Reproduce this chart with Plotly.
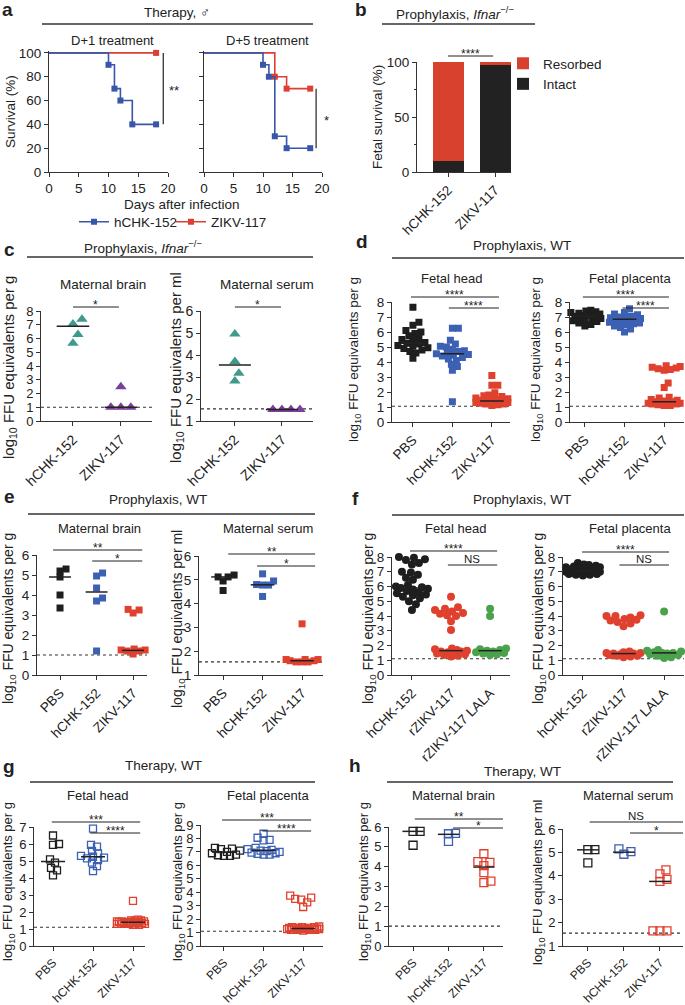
import numpy as np
import plotly.graph_objects as go

W, H = 685, 1005
FONT = "Liberation Sans, Arial, DejaVu Sans, sans-serif"
INK = "#222222"
AX = "#333333"
BLACK = "#1e1e1e"; BLUE = "#3b60b4"; RED = "#e0412f"; GREEN = "#4aa24c"
TEAL = "#3f9a8c"; PURPLE = "#7a3e9b"; KM_BLUE = "#3956a8"; KM_RED = "#dc3f33"

# ---------------- data ----------------
# a: Kaplan-Meier survival
a_d1_hchk_days = [0, 10, 11, 12, 14, 18]
a_d1_hchk_surv = [100, 90, 70, 60, 40, 40]
a_d1_zikv_days = [0, 18]
a_d1_zikv_surv = [100, 100]
a_d5_hchk_days = [0, 10, 11, 12, 14, 18]
a_d5_hchk_surv = [100, 90, 80, 30, 20, 20]
a_d5_zikv_days = [0, 12, 14, 18]
a_d5_zikv_surv = [100, 80, 70, 70]
a_xticks = [0, 5, 10, 15, 20]
a_yticks = [0, 20, 40, 60, 80, 100]

# b: fetal survival
b_groups = ["hCHK-152", "ZIKV-117"]
b_intact = [10, 97]
b_resorbed = [90, 3]

# c: prophylaxis Ifnar-/-
c_groups = ["hCHK-152", "ZIKV-117"]
c_brain_hchk = [7.4, 7.05, 6.3, 5.65]
c_brain_zikv = [2.5, 1.0, 1.0, 1.0]
c_brain_center = [6.9, 1.0]
c_serum_hchk = [4.95, 3.7, 3.17, 2.82]
c_serum_zikv = [1.52, 1.52, 1.52, 1.52]
c_serum_center = [3.55, 1.52]

# d: prophylaxis WT, fetal
d_groups = ["PBS", "hCHK-152", "ZIKV-117"]
d_head_pbs = [7.65, 6.65, 6.45, 6.1, 6.0, 5.9, 5.75, 5.6, 5.5, 5.45, 5.3, 5.25, 5.2, 5.1, 5.05, 4.95, 4.9, 4.8, 4.7, 4.6, 4.25]
d_head_hchk = [6.25, 6.25, 5.45, 5.2, 5.05, 5.0, 4.85, 4.75, 4.7, 4.6, 4.55, 4.5, 4.45, 4.4, 4.3, 4.2, 4.1, 3.85, 3.7, 3.45, 1.35]
d_head_zikv = [3.1, 2.45, 2.45, 1.95, 1.8, 1.75, 1.7, 1.6, 1.55, 1.5, 1.5, 1.45, 1.45, 1.4, 1.4, 1.4, 1.35, 1.35, 1.3, 1.3, 1.25, 1.2, 1.2, 1.15, 1.1]
d_head_center = [5.25, 4.55, 1.4]
d_plac_pbs = [7.45, 7.4, 7.35, 7.3, 7.25, 7.2, 7.15, 7.1, 7.1, 7.05, 7.0, 7.0, 6.95, 6.9, 6.85, 6.8, 6.75, 6.7, 6.6, 6.5, 6.4]
d_plac_hchk = [7.55, 7.3, 7.2, 7.15, 7.05, 7.0, 6.95, 6.9, 6.9, 6.85, 6.8, 6.75, 6.7, 6.65, 6.6, 6.55, 6.5, 6.4, 6.3, 6.2, 6.0]
d_plac_zikv = [3.75, 3.7, 3.65, 3.6, 3.55, 3.5, 3.45, 2.6, 2.3, 1.65, 1.6, 1.5, 1.45, 1.4, 1.35, 1.35, 1.3, 1.3, 1.25, 1.25, 1.2, 1.2, 1.15, 1.1, 1.1]
d_plac_center = [7.05, 6.85, 1.35]

# e: prophylaxis WT, maternal
e_groups = ["PBS", "hCHK-152", "ZIKV-117"]
e_brain_pbs = [5.3, 5.2, 4.9, 4.0, 3.35]
e_brain_hchk = [5.1, 4.95, 4.35, 3.85, 3.7, 1.2]
e_brain_zikv = [3.25, 3.1, 3.28, 1.3, 1.25, 1.2, 1.2, 1.25, 1.05]
e_brain_center = [4.9, 4.15, 1.23]
e_serum_pbs = [5.2, 5.12, 5.12, 4.95, 4.55]
e_serum_hchk = [5.25, 4.95, 4.8, 4.78, 4.78, 4.3]
e_serum_zikv = [3.15, 1.65, 1.65, 1.6, 1.55, 1.55, 1.55, 1.6, 1.65]
e_serum_center = [5.12, 4.79, 1.6]

# f: prophylaxis WT, LALA
f_groups = ["hCHK-152", "rZIKV-117", "rZIKV-117 LALA"]
f_head_hchk = [8.0, 7.95, 7.85, 7.8, 7.6, 7.5, 7.0, 6.95, 6.8, 6.6, 6.45, 6.1, 6.0, 5.95, 5.9, 5.85, 5.8, 5.7, 5.6, 5.55, 5.45, 5.4, 5.3, 5.2, 5.0, 4.8, 4.4]
f_head_rzikv = [5.3, 4.6, 4.5, 4.4, 4.3, 4.2, 4.15, 4.05, 4.0, 3.65, 3.05, 1.8, 1.75, 1.7, 1.65, 1.6, 1.6, 1.55, 1.5, 1.45, 1.4, 1.35, 1.3, 1.25]
f_head_lala = [4.5, 4.0, 1.8, 1.75, 1.7, 1.65, 1.6, 1.55, 1.5, 1.45, 1.4, 1.35]
f_head_center = [5.9, 1.65, 1.65]
f_plac_hchk = [7.6, 7.5, 7.45, 7.4, 7.35, 7.3, 7.3, 7.25, 7.2, 7.2, 7.15, 7.1, 7.1, 7.05, 7.05, 7.0, 7.0, 6.95, 6.95, 6.9, 6.9, 6.85, 6.85, 6.8, 6.8, 6.75]
f_plac_rzikv = [4.05, 4.0, 4.0, 3.9, 3.8, 3.75, 3.7, 3.6, 3.5, 3.3, 1.6, 1.55, 1.5, 1.5, 1.45, 1.45, 1.4, 1.4, 1.35, 1.3, 1.3, 1.25, 1.2]
f_plac_lala = [4.3, 1.7, 1.65, 1.6, 1.55, 1.5, 1.5, 1.45, 1.4, 1.35, 1.3, 1.2, 1.15]
f_plac_center = [7.05, 1.45, 1.5]

# g: therapy WT, fetal
g_groups = ["PBS", "hCHK-152", "ZIKV-117"]
g_head_pbs = [6.5, 6.0, 5.95, 5.1, 4.9, 4.6, 4.45, 4.15]
g_head_hchk = [6.9, 5.95, 5.85, 5.6, 5.45, 5.3, 5.25, 5.2, 5.15, 5.05, 4.9, 4.7, 4.4]
g_head_zikv = [2.65, 1.55, 1.5, 1.5, 1.5, 1.45, 1.45, 1.45, 1.45, 1.4, 1.4, 1.4, 1.4, 1.4, 1.35, 1.35, 1.35, 1.35, 1.35, 1.3, 1.3, 1.3, 1.3, 1.3, 1.25, 1.25]
g_head_center = [4.97, 5.25, 1.4]
g_plac_pbs = [7.3, 7.25, 7.2, 7.1, 7.0, 6.9, 6.8, 6.75, 6.7, 6.7]
g_plac_hchk = [8.35, 8.05, 7.9, 7.85, 7.3, 7.2, 7.15, 7.1, 7.05, 7.0, 6.95, 6.9, 6.85, 6.8, 6.8]
g_plac_zikv = [3.75, 3.6, 3.5, 3.45, 3.25, 2.9, 1.45, 1.4, 1.4, 1.4, 1.35, 1.35, 1.35, 1.3, 1.3, 1.3, 1.3, 1.25, 1.25, 1.25, 1.25, 1.2, 1.2, 1.2, 1.2, 1.15]
g_plac_center = [6.98, 7.12, 1.3]

# h: therapy WT, maternal
h_groups = ["PBS", "hCHK-152", "ZIKV-117"]
h_brain_pbs = [5.78, 5.78, 5.08]
h_brain_hchk = [5.68, 5.66, 5.28]
h_brain_zikv = [4.65, 4.25, 4.22, 4.05, 3.7, 3.27, 3.2]
h_brain_center = [5.78, 5.63, 3.98]
h_serum_pbs = [5.12, 5.12, 4.55]
h_serum_hchk = [5.15, 5.03, 4.92]
h_serum_zikv = [4.25, 4.08, 3.85, 3.76, 1.65, 1.65, 1.65]
h_serum_center = [5.11, 5.01, 3.76]

# ---------------- helpers ----------------
def X(p):
    return p / W

def Y(p):
    return 1 - p / H

fig = go.Figure()
layout = {}
shapes = []
annots = []

def names(n):
    s = "" if n == 1 else str(n)
    return "x" + s, "y" + s, "xaxis" + s, "yaxis" + s

def set_axes(n, xpx, ypx, xr, yr, xtv, xtt, ytv, fs, xangle=0, ylabels=True, yminor=None, xfs=None):
    xr_, yr_, xa, ya = names(n)
    common = dict(showline=True, linecolor=AX, linewidth=1, ticks="outside", ticklen=4,
                  tickwidth=1, tickcolor=AX, showgrid=False, zeroline=False, fixedrange=True)
    layout[xa] = dict(domain=[X(xpx[0]), X(xpx[1])], range=xr, anchor=yr_, tickmode="array",
                      tickvals=xtv, ticktext=xtt, tickangle=xangle,
                      tickfont=dict(size=xfs or fs, color=INK, family=FONT), **common)
    ydict = dict(domain=[Y(ypx[1]), Y(ypx[0])], range=yr, anchor=xr_, tickmode="array",
                 tickvals=ytv, showticklabels=ylabels,
                 tickfont=dict(size=fs, color=INK, family=FONT), **common)
    if yminor is not None:
        ydict["minor"] = dict(tickvals=yminor, ticklen=2, ticks="outside", tickcolor=AX, showgrid=False)
    layout[ya] = ydict

def text(s, xp, yp, size=13, angle=0, xanchor="center", yanchor="middle"):
    annots.append(dict(text=s, x=X(xp), y=Y(yp), xref="paper", yref="paper", showarrow=False,
                       font=dict(size=size, color=INK, family=FONT), textangle=angle,
                       xanchor=xanchor, yanchor=yanchor))

def header(s, xc, yt, yl, x0, x1, letter, lx, ly):
    text(s, xc, yt, 13.5)
    shapes.append(dict(type="line", xref="paper", yref="paper", x0=X(x0), x1=X(x1), y0=Y(yl), y1=Y(yl),
                       line=dict(color=AX, width=1.3)))
    text("<b>" + letter + "</b>", lx, ly, 19)

def bracket(n, x0, x1, ypx, label):
    xr_ = names(n)[0]
    shapes.append(dict(type="line", xref=xr_, x0=x0, x1=x1, yref="paper", y0=Y(ypx), y1=Y(ypx),
                       line=dict(color=INK, width=1.2)))
    star = label.startswith("*")
    annots.append(dict(text=label, xref=xr_, x=(x0 + x1) / 2, yref="paper",
                       y=Y(ypx - (2 if star else 6)), yanchor="middle", showarrow=False,
                       font=dict(size=12 if star else 11.5, color=INK, family=FONT)))

def swarm(vals, xc, ppx, ppy, mind, maxoff_px):
    order = sorted(range(len(vals)), key=lambda i: vals[i])
    placed = []
    out = [0.0] * len(vals)
    cands = [0.0]
    k = 1
    while k <= maxoff_px:
        cands += [float(k), float(-k)]
        k += 1
    for i in order:
        yp = vals[i] * ppy
        best = None
        for c in cands:
            if all((c - a) ** 2 + (yp - b) ** 2 >= mind ** 2 for a, b in placed):
                best = c
                break
        if best is None:
            best = max(cands, key=lambda c: min((c - a) ** 2 + (yp - b) ** 2 for a, b in placed))
        placed.append((best, yp))
        out[i] = xc + best / ppx
    return out

def dot_panel(n, groups, series, centers, colors, symbol, msize, limit, xpx, ypx, xr, yr, yticks, fs,
              open_=False, halfw=0.3, sep=0.85, maxoff=0.42, xfs=None):
    set_axes(n, xpx, ypx, xr, yr, list(range(len(groups))), groups, yticks, fs, -45, xfs=xfs)
    xr_, yr_, _, _ = names(n)
    ppx = (xpx[1] - xpx[0]) / (xr[1] - xr[0])
    ppy = (ypx[1] - ypx[0]) / (yr[1] - yr[0])
    shapes.append(dict(type="line", xref=xr_ + " domain", x0=0, x1=1, yref=yr_, y0=limit, y1=limit,
                       layer="below", line=dict(color=AX, width=1.1, dash="dot")))
    for i, (vals, col) in enumerate(zip(series, colors)):
        xs = swarm(vals, i, ppx, ppy, msize * sep, maxoff * ppx)
        if open_:
            mk = dict(symbol=symbol + "-open", size=msize, color=col, line=dict(width=1.3, color=col))
        else:
            mk = dict(symbol=symbol, size=msize, color=col, line=dict(width=0))
        fig.add_trace(go.Scatter(x=xs, y=vals, mode="markers", marker=mk, xaxis=xr_, yaxis=yr_,
                                 showlegend=False, cliponaxis=False, hoverinfo="skip"))
    for i, c in enumerate(centers):
        fig.add_trace(go.Scatter(x=[i - halfw, i + halfw], y=[c, c], mode="lines",
                                 line=dict(color=INK, width=1.5), xaxis=xr_, yaxis=yr_,
                                 showlegend=False, cliponaxis=False, hoverinfo="skip"))

def km(n, days, surv, color):
    xr_, yr_, _, _ = names(n)
    fig.add_trace(go.Scatter(x=days, y=surv, mode="lines", line=dict(color=color, width=1.6, shape="hv"),
                             xaxis=xr_, yaxis=yr_, showlegend=False, cliponaxis=False, hoverinfo="skip"))
    fig.add_trace(go.Scatter(x=days[1:], y=surv[1:], mode="markers",
                             marker=dict(symbol="square", size=6, color=color),
                             xaxis=xr_, yaxis=yr_, showlegend=False, cliponaxis=False, hoverinfo="skip"))

LOGG = "log<sub>10</sub> FFU equivalents per g"
LOGML = "log<sub>10</sub> FFU equivalents per ml"

# ---------------- panel a ----------------
header("Therapy, \u2642", 177, 13, 24, 42, 313, "a", 8, 10)
set_axes(1, (49, 168), (51, 172), [0, 20], [0, 101.6], a_xticks, None, a_yticks, 13.5)
set_axes(2, (204, 322), (51, 172), [0, 20], [0, 101.6], a_xticks, None, a_yticks, 13.5, ylabels=False)
km(1, a_d1_zikv_days, a_d1_zikv_surv, KM_RED)
km(1, a_d1_hchk_days, a_d1_hchk_surv, KM_BLUE)
km(2, a_d5_zikv_days, a_d5_zikv_surv, KM_RED)
km(2, a_d5_hchk_days, a_d5_hchk_surv, KM_BLUE)
text("D+1 treatment", 113, 40)
text("D+5 treatment", 267, 40)
text("Survival (%)", 10, 112, 13.5, angle=-90)
text("Days after infection", 182, 204, 13.5)
shapes.append(dict(type="line", xref="x", yref="y", x0=19.2, x1=19.2, y0=100, y1=40, line=dict(color=INK, width=1.2)))
shapes.append(dict(type="line", xref="x2", yref="y2", x0=19.0, x1=19.0, y0=70, y1=20, line=dict(color=INK, width=1.2)))
text("**", 174, 90, 13)
text("*", 326, 120, 13)
for nm, col in (("hCHK-152", KM_BLUE), ("ZIKV-117", KM_RED)):
    fig.add_trace(go.Scatter(x=[None], y=[None], mode="lines+markers", name=nm,
                             line=dict(color=col, width=1.6), marker=dict(symbol="square", size=6, color=col),
                             legend="legend"))

# ---------------- panel b ----------------
header("Prophylaxis, <i>Ifnar</i><sup>\u2212/\u2212</sup>", 455, 13, 24, 382, 535, "b", 361, 10)
set_axes(3, (417, 511), (62, 172), [-0.66, 1.34], [0, 100], [0, 1], b_groups, [0, 50, 100], 13.5,
         xangle=-45, yminor=[25, 75])
fig.add_trace(go.Bar(x=[0, 1], y=b_intact, width=0.66, name="Intact", marker=dict(color="#222222", line=dict(width=0)),
                     xaxis="x3", yaxis="y3", legend="legend2", hoverinfo="skip"))
fig.add_trace(go.Bar(x=[0, 1], y=b_resorbed, width=0.66, name="Resorbed", marker=dict(color="#d9412f", line=dict(width=0)),
                     xaxis="x3", yaxis="y3", legend="legend2", hoverinfo="skip"))
text("Fetal survival (%)", 378, 117, 13.5, angle=-90)
bracket(3, 0.0, 0.96, 56, "****")

# ---------------- panel c ----------------
header("Prophylaxis, <i>Ifnar</i><sup>\u2212/\u2212</sup>", 143, 247, 257, 27, 313, "c", 9, 249)
dot_panel(4, c_groups, [c_brain_hchk, c_brain_zikv], c_brain_center, [TEAL, PURPLE], "triangle-up", 10,
          1.0, (41, 152), (311, 421), [-0.667, 1.65], [0, 8], list(range(0, 9)), 13, halfw=0.34, sep=1.0, xfs=14)
dot_panel(5, c_groups, [c_serum_hchk, c_serum_zikv], c_serum_center, [TEAL, PURPLE], "triangle-up", 10,
          1.55, (201, 313), (311, 421), [-0.72, 1.66], [1, 6], list(range(1, 7)), 14, halfw=0.34, sep=0.85)
text("Maternal brain", 103, 285, 13.5)
text("Maternal serum", 267, 285, 13.5)
text(LOGG, 10, 368, 15, angle=-90)
text(LOGML, 177, 368, 15, angle=-90)
bracket(4, 0.0, 0.96, 307, "*")
bracket(5, 0.0, 0.98, 307, "*")

# ---------------- panel d ----------------
header("Prophylaxis, WT", 522, 245, 258, 392, 684, "d", 362, 242)
dot_panel(6, d_groups, [d_head_pbs, d_head_hchk, d_head_zikv], d_head_center, [BLACK, BLUE, RED], "square", 7,
          1.05, (392, 510), (302, 422), [-0.53, 2.46], [0, 8], list(range(0, 9)), 13.5)
dot_panel(7, d_groups, [d_plac_pbs, d_plac_hchk, d_plac_zikv], d_plac_center, [BLACK, BLUE, RED], "square", 7,
          1.05, (570, 684), (302, 422), [-0.375, 2.5], [0, 8], list(range(0, 9)), 13.5)
text("Fetal head", 452, 278)
text("Fetal placenta", 630, 278)
text(LOGG, 355, 360, 13.5, angle=-90)
text(LOGG, 537, 360, 13.5, angle=-90)
bracket(6, -0.05, 2.18, 297, "****")
bracket(6, 0.91, 2.18, 308, "****")
bracket(7, -0.05, 2.12, 297, "****")
bracket(7, 0.95, 2.12, 308, "****")

# ---------------- panel e ----------------
header("Prophylaxis, WT", 158, 499, 514, 28, 315, "e", 9, 496)
dot_panel(8, e_groups, [e_brain_pbs, e_brain_hchk, e_brain_zikv], e_brain_center, [BLACK, BLUE, RED], "square", 7,
          1.0, (37, 147), (555, 675), [-0.63, 2.38], [0, 6], list(range(0, 7)), 13.5)
dot_panel(9, e_groups, [e_serum_pbs, e_serum_hchk, e_serum_zikv], e_serum_center, [BLACK, BLUE, RED], "square", 7,
          1.55, (199, 323), (556, 675), [-0.61, 2.53], [1, 6], list(range(1, 7)), 13.5)
text("Maternal brain", 100, 528)
text("Maternal serum", 268, 528)
text(LOGG, 9, 619, 14, angle=-90)
text(LOGML, 178, 619, 14, angle=-90)
bracket(8, -0.19, 2.25, 550, "**")
bracket(8, 0.88, 2.25, 561, "*")
bracket(9, 0.13, 2.33, 554, "**")
bracket(9, 0.86, 2.33, 566, "*")

# ---------------- panel f ----------------
header("Prophylaxis, WT", 522, 499, 515, 392, 684, "f", 355, 498)
dot_panel(10, f_groups, [f_head_hchk, f_head_rzikv, f_head_lala], f_head_center, [BLACK, RED, GREEN], "circle", 8,
          1.1, (392, 510), (557, 675), [-0.51, 2.51], [0, 8], list(range(0, 9)), 13.5)
dot_panel(11, f_groups, [f_plac_hchk, f_plac_rzikv, f_plac_lala], f_plac_center, [BLACK, RED, GREEN], "circle", 8,
          1.1, (563, 684), (557, 675), [-0.49, 2.49], [0, 8], list(range(0, 9)), 13.5)
text("Fetal head", 455, 528)
text("Fetal placenta", 630, 528)
text(LOGG, 369, 619, 14, angle=-90)
text(LOGG, 539, 619, 14, angle=-90)
bracket(10, -0.05, 2.18, 551, "****")
bracket(10, 0.92, 2.18, 565, "NS")
bracket(11, -0.02, 2.12, 552, "****")
bracket(11, 0.9, 2.12, 565, "NS")

# ---------------- panel g ----------------
header("Therapy, WT", 163, 765, 782, 30, 315, "g", 9, 766)
dot_panel(12, g_groups, [g_head_pbs, g_head_hchk, g_head_zikv], g_head_center, [BLACK, BLUE, RED], "square", 7,
          1.1, (34, 145), (827, 946), [-0.475, 2.3], [0, 7], list(range(0, 8)), 13, open_=True, xfs=12)
dot_panel(13, g_groups, [g_plac_pbs, g_plac_hchk, g_plac_zikv], g_plac_center, [BLACK, BLUE, RED], "square", 7,
          1.1, (201, 323), (825, 946), [-0.58, 2.5], [0, 9], list(range(0, 10)), 13, open_=True, xfs=12)
text("Fetal head", 97, 795)
text("Fetal placenta", 268, 795)
text(LOGG, 8, 882, 13, angle=-90)
text(LOGG, 178, 882, 13, angle=-90)
bracket(12, -0.03, 2.18, 822, "***")
bracket(12, 0.93, 2.18, 833, "****")
bracket(13, -0.05, 2.2, 820, "***")
bracket(13, 0.97, 2.2, 831, "****")

# ---------------- panel h ----------------
header("Therapy, WT", 522, 771, 782, 387, 673, "h", 355, 765)
dot_panel(14, h_groups, [h_brain_pbs, h_brain_hchk, h_brain_zikv], h_brain_center, [BLACK, BLUE, RED], "square", 8,
          1.0, (389, 503), (827, 946), [-0.68, 2.54], [0, 6], list(range(0, 7)), 13, open_=True, xfs=12)
dot_panel(15, h_groups, [h_serum_pbs, h_serum_hchk, h_serum_zikv], h_serum_center, [BLACK, BLUE, RED], "square", 8,
          1.55, (563, 683), (829, 946), [-0.69, 2.64], [1, 6], list(range(1, 7)), 13, open_=True, xfs=12)
text("Maternal brain", 453, 795)
text("Maternal serum", 628, 795)
text(LOGG, 364, 882, 13, angle=-90)
text(LOGML, 538, 882, 13, angle=-90)
bracket(14, 0.05, 2.54, 819, "**")
bracket(14, 1.13, 2.54, 828, "*")
bracket(15, 0.05, 2.64, 822, "NS")
bracket(15, 1.17, 2.64, 833, "*")

fig.update_layout(
    width=W, height=H, margin=dict(l=0, r=0, t=0, b=0),
    paper_bgcolor="white", plot_bgcolor="rgba(0,0,0,0)", template="none",
    font=dict(family=FONT, color=INK, size=13),
    barmode="stack", shapes=shapes, annotations=annots, hovermode=False,
    legend=dict(orientation="h", x=X(74), y=Y(222), xanchor="left", yanchor="middle",
                font=dict(size=13.5, family=FONT, color=INK), bgcolor="rgba(0,0,0,0)",
                itemwidth=30, traceorder="normal", entrywidth=52),
    legend2=dict(orientation="v", x=X(503), y=Y(48), xanchor="left", yanchor="top",
                 font=dict(size=13.5, family=FONT, color=INK), bgcolor="rgba(0,0,0,0)",
                 traceorder="reversed", tracegroupgap=0),
    **layout,
)

fig.write_html("out.html", config={"displayModeBar": False},
               post_script="document.body.style.margin='0px';document.body.style.padding='0px';")
